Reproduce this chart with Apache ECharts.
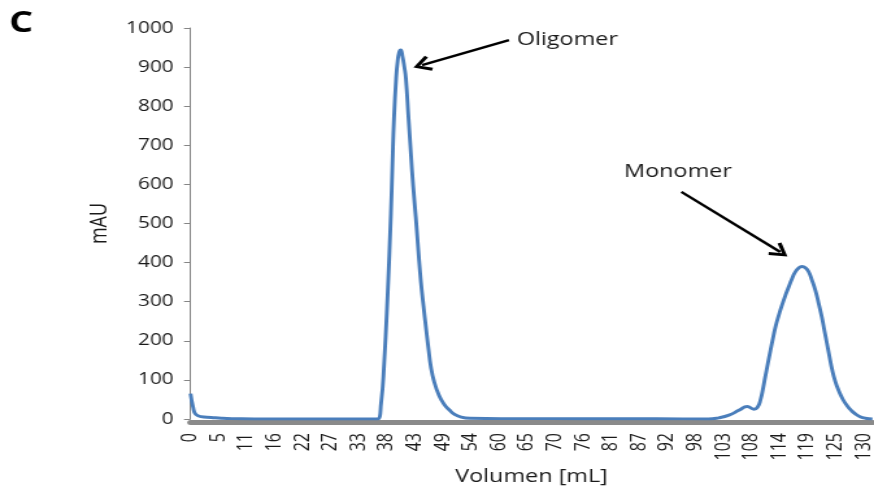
<!DOCTYPE html>
<html><head><meta charset="utf-8">
<script src="https://cdn.jsdelivr.net/npm/echarts@6/dist/echarts.min.js"></script>
<style>
html,body{margin:0;padding:0;background:#fff;overflow:hidden;width:874px;height:494px}
#chart{width:673px;height:494px;transform-origin:0 0;transform:scaleX(1.2987);}
</style></head><body><div id="chart"></div>
<script>
// Elution volume (mL) and absorbance (mAU)
const volume = [0,0.5,1,2,4,6,8,15,25,33,35,36.1,36.8,37.4,38.05,38.7,39.0,39.3,39.7,40.0,40.3,40.6,40.9,41.3,41.6,42.1,42.6,43.0,43.5,44.0,44.5,45.0,45.5,46.0,46.4,47.0,48,49,50,51,52,54,60,70,80,90,100,102,104,106,107.5,108.8,109.5,110.1,110.6,111,111.5,112,112.5,113,113.6,114.2,115,115.5,116.2,116.8,117.5,118.1,118.8,119.4,120,120.7,121.3,121.9,122.4,122.9,123.4,123.9,124.5,125.2,126,126.8,127.6,128.4,129.3,130.3,131.7];
const mAU    = [65,30,12,6,4,2,1,0,0,0,0,0,40,143,313,526,654,770,870,915,938,944,930,900,870,770,671,595,517,430,350,288,230,175,135,98,60,37,23,12,6,2,1,1,0.5,0.5,0,3,10,23,32,25,30,50,80,108,142,175,207,237,265,290,320,337,360,376,387,390,386,376,356,328,296,262,228,194,160,127,97,72,50,34,22,13,6,2,0];
const xTickLabels = ['0','5','11','16','22','27','33','38','43','49','54','60','65','70','76','81','87','92','98','103','108','114','119','125','130'];
const yTicks = [0,100,200,300,400,500,600,700,800,900,1000];
// annotation arrows [tail, head] in data coordinates
const oligomerArrow = [[61.5,969],[44.7,905]];
const monomerArrow  = [[94.8,581],[113.9,427]];

const xStep = 130/24;
const font = 'Open Sans';
const chart = echarts.init(document.getElementById('chart'));
chart.setOption({
  animation:false,
  backgroundColor:'#fff',
  grid:{left:146.7, right:0, top:28, bottom:75, containLabel:false},
  xAxis:{
    type:'value', min:0, max:131.7, interval:xStep, offset:3,
    axisLine:{show:true, onZero:false, lineStyle:{color:'#8a8a8a', width:5}},
    axisTick:{show:false},
    splitLine:{show:false},
    axisLabel:{rotate:90, margin:11, fontSize:16, fontFamily:font, color:'#1a1a1a', showMaxLabel:false,
      formatter:v=>{const i=Math.round(v/xStep); return (Math.abs(v/xStep-i)<0.01 && i<xTickLabels.length)? xTickLabels[i] : '';}},
    name:'Volumen [mL]', nameLocation:'middle', nameGap:44,
    nameTextStyle:{fontSize:18, fontFamily:font, color:'#1a1a1a'}
  },
  yAxis:{
    type:'value', min:yTicks[0], max:yTicks[yTicks.length-1], interval:100,
    axisLine:{show:true, lineStyle:{color:'#868686', width:1}},
    axisTick:{show:true, length:5, lineStyle:{color:'#868686'}},
    splitLine:{show:false},
    axisLabel:{margin:13, fontSize:16, fontFamily:font, color:'#1a1a1a', formatter:v=>String(v)},
    name:'mAU', nameLocation:'middle', nameGap:55, nameRotate:90,
    nameTextStyle:{fontSize:18, fontFamily:font, color:'#1a1a1a'}
  },
  series:[{
    type:'line', data:volume.map((x,i)=>[x,mAU[i]]), showSymbol:false, smooth:0.5,
    lineStyle:{color:'#4a7ebb', width:2.9},
    markLine:{
      silent:true, animation:false,
      symbol:['none','path://M50,0 L100,70 L84,80 L50,30 L16,80 L0,70 Z'], symbolSize:[16,14],
      lineStyle:{color:'#000', width:2.4, type:'solid'},
      label:{show:false},
      data:[
        [{coord:oligomerArrow[0]},{coord:oligomerArrow[1]}],
        [{coord:monomerArrow[0]},{coord:monomerArrow[1]}]
      ]
    }
  }],
  graphic:[
    {type:'text', x:7, y:24, style:{text:'C', fontSize:29, fontWeight:'bold', fontFamily:font, fill:'#000', verticalAlign:'middle'}},
    {type:'text', x:398, y:40, style:{text:'Oligomer', fontSize:18, fontFamily:font, fill:'#1a1a1a', verticalAlign:'middle'}},
    {type:'text', x:480.5, y:172, style:{text:'Monomer', fontSize:18, fontFamily:font, fill:'#1a1a1a', verticalAlign:'middle'}}
  ]
});
</script></body></html>
